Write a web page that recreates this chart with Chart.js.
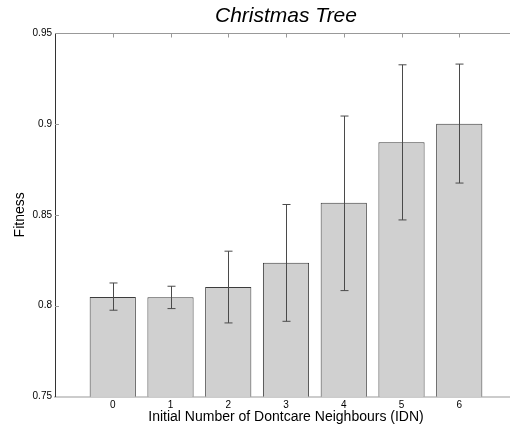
<!DOCTYPE html>
<html lang="en">
<head>
  <meta charset="UTF-8" />
  <title>Christmas Tree</title>
  <script src="https://cdn.jsdelivr.net/npm/chart.js"></script>
  <style>
    html, body {
      margin: 0;
      padding: 0;
      background: #fff;
      overflow: hidden;
    }
    canvas {
      display: block;
    }
  </style>
</head>
<body>
  <canvas id="chart" width="520" height="432"></canvas>

  <script>
    // IDN values on the x axis
    const categories = [0, 1, 2, 3, 4, 5, 6];
    // mean fitness per IDN
    const fitness = [0.8048, 0.8047, 0.8103, 0.8236, 0.8566, 0.8900, 0.9001];
    // error bar ends
    const errLow = [0.7975, 0.7984, 0.7905, 0.7914, 0.8083, 0.8472, 0.8675];
    const errHigh = [0.8125, 0.8107, 0.8300, 0.8557, 0.9044, 0.9326, 0.9330];
    const yTicks = [0.75, 0.8, 0.85, 0.9, 0.95];

    const font = 'Arial, "Liberation Sans", sans-serif';

    // whiskers + the frame bits Chart.js doesn't do (inward ticks, top border)
    const extras = {
      id: 'extras',
      afterDatasetsDraw(chart) {
        const { ctx, chartArea: a, scales: { x, y } } = chart;
        ctx.save();

        ctx.strokeStyle = '#4a4a4a';
        ctx.lineWidth = 1;
        categories.forEach((c, i) => {
          const px = Math.round(x.getPixelForValue(c)) + 0.5;
          const top = y.getPixelForValue(errHigh[i]);
          const bot = y.getPixelForValue(errLow[i]);
          ctx.beginPath();
          ctx.moveTo(px, top);
          ctx.lineTo(px, bot);
          ctx.moveTo(px - 4, top);
          ctx.lineTo(px + 4, top);
          ctx.moveTo(px - 4, bot);
          ctx.lineTo(px + 4, bot);
          ctx.stroke();
        });

        ctx.strokeStyle = '#999';
        ctx.beginPath();
        const t = Math.round(a.top) + 0.5;
        ctx.moveTo(a.left, t);
        ctx.lineTo(a.right, t);
        categories.forEach(c => {
          const px = Math.round(x.getPixelForValue(c)) + 0.5;
          ctx.moveTo(px, t);
          ctx.lineTo(px, t + 4);
        });
        yTicks.slice(1, -1).forEach(v => {
          const py = Math.round(y.getPixelForValue(v)) + 0.5;
          ctx.moveTo(a.left, py);
          ctx.lineTo(a.left + 4, py);
        });
        ctx.stroke();
        ctx.restore();
      }
    };

    new Chart(document.getElementById('chart'), {
      type: 'bar',
      data: {
        datasets: [{
          data: categories.map((c, i) => ({ x: c, y: fitness[i] })),
          backgroundColor: '#d0d0d0',
          borderColor: '#3c3c3c',
          borderWidth: 1,
          barPercentage: 0.8,
          categoryPercentage: 1
        }]
      },
      options: {
        responsive: false,
        animation: false,
        layout: { padding: { left: 0, right: 3, top: 0, bottom: 0 } },
        plugins: {
          legend: { display: false },
          tooltip: { enabled: false },
          title: {
            display: true,
            text: 'Christmas Tree',
            fullSize: false,
            color: '#000',
            font: { family: font, size: 21, style: 'italic', weight: 'normal' },
            padding: { top: 4, bottom: 4 }
          }
        },
        scales: {
          x: {
            type: 'linear',
            min: -1,
            max: 7,
            offset: false,
            grid: { display: false, drawTicks: false },
            border: { display: true, color: '#ccc', width: 2 },
            ticks: {
              stepSize: 1,
              color: '#000',
              font: { family: font, size: 10 },
              padding: 3,
              maxRotation: 0,
              callback: v => categories.includes(v) ? String(v) : ''
            },
            title: {
              display: true,
              text: 'Initial Number of Dontcare Neighbours (IDN)',
              color: '#000',
              font: { family: font, size: 14 },
              padding: { top: 0, bottom: 6 }
            },
            afterFit: s => { s.height = 35.5; }
          },
          y: {
            min: 0.75,
            max: 0.95,
            grid: { display: false, drawTicks: false },
            border: { display: true, color: '#333', width: 1 },
            ticks: {
              stepSize: 0.05,
              color: '#000',
              font: { family: font, size: 10 },
              padding: 3,
              callback: v => String(+v.toFixed(2))
            },
            title: {
              display: true,
              text: 'Fitness',
              color: '#000',
              font: { family: font, size: 14 },
              padding: { top: 12, bottom: 0 }
            },
            afterFit: s => { s.width = 55; }
          }
        }
      },
      plugins: [extras]
    });
  </script>
</body>
</html>
